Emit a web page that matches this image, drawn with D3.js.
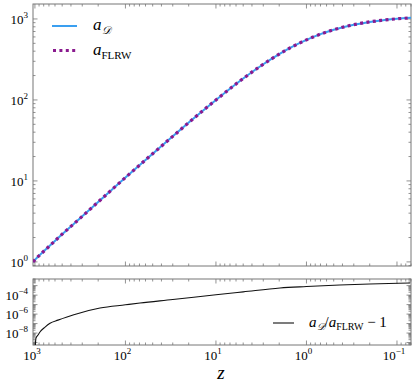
<!DOCTYPE html>
<html lang="en">
<head>
<meta charset="UTF-8">
<title>scale factor</title>
<script src="https://d3js.org/d3.v7.min.js"></script>
<style>
  body { margin: 0; background: #fff; }
</style>
</head>
<body>
<div id="chart"></div>
<script>
// redshift samples
var zTop = [1050, 1000, 700, 500, 300, 200, 100, 50, 30, 20, 10, 5, 3, 2, 1.5, 1, 0.7, 0.5, 0.3, 0.2, 0.15, 0.1, 0.07];
var aD   = [1.0, 1.06, 1.55, 2.2, 3.65, 5.5, 11, 21.7, 35.5, 52.5, 100, 184, 276, 368, 442, 552, 650, 736, 850, 920, 960, 1004, 1032];
var aFLRW = aD.slice(); // overlaps aD everywhere at this scale

var zBot = [1000, 973, 925, 879, 773, 681, 556, 442, 318, 191, 100, 69, 30, 10, 5, 1.96, 1, 0.43, 0.2, 0.072];
var ratio = [1e-10, 3e-9, 6.2e-9, 1.3e-8, 4.3e-8, 1.1e-7, 2.3e-7, 4.9e-7, 1.3e-6, 4.3e-6, 9.5e-6, 1.47e-5, 3.4e-5, 1.1e-4, 2.2e-4, 5.6e-4, 8e-4, 1.17e-3, 1.5e-3, 1.9e-3];

var xMajor = [1000, 100, 10, 1, 0.1];
var xLabels = ["3", "2", "1", "0", "-1"];
var yTopMajor = [1, 10, 100, 1000];
var yTopLabels = ["0", "1", "2", "3"];
var yBotMajor = [1e-9, 1e-8, 1e-7, 1e-6, 1e-5, 1e-4, 1e-3];
var yBotLabeled = [1e-8, 1e-6, 1e-4];
var yBotLabels = ["-8", "-6", "-4"];

var W = 415, H = 388;
var L = 33, R = 411;
var top1 = 4, bot1 = 266, top2 = 279, bot2 = 345;
var axisCol = "#777";
var serif = "'Liberation Serif', 'Times New Roman', 'DejaVu Serif', serif";

var svg = d3.select("#chart").append("svg")
    .attr("width", W).attr("height", H)
    .attr("font-family", serif);

var x = d3.scaleLog().domain([1050, 0.07]).range([L, R]);
var y1 = d3.scaleLog().domain([0.89, 1530]).range([bot1, top1]);
var y2 = d3.scaleLog().domain([5.5e-10, 5e-3]).range([bot2, top2]);

function minors(lo, hi) {
    var out = [];
    for (var e = Math.floor(Math.log10(lo)) - 1; e <= Math.ceil(Math.log10(hi)); e++) {
        for (var k = 2; k <= 9; k++) {
            var v = k * Math.pow(10, e);
            if (v >= lo && v <= hi) out.push(v);
        }
    }
    return out;
}

function sup(sel, base, exp) {
    sel.append("tspan").text(base);
    sel.append("tspan").attr("dy", -6).attr("font-size", "9px").text(exp);
}

// clip paths
var defs = svg.append("defs");
defs.append("clipPath").attr("id", "c1").append("rect")
    .attr("x", L).attr("y", top1).attr("width", R - L).attr("height", bot1 - top1);
defs.append("clipPath").attr("id", "c2").append("rect")
    .attr("x", L).attr("y", top2).attr("width", R - L).attr("height", bot2 - top2);

function panel(yS, yt, yb, yMaj) {
    var g = svg.append("g");
    var xMin = minors(0.07, 1050);
    var yMin = minors(yS.domain()[0], yS.domain()[1]);
    // x ticks bottom and top, y ticks left and right, all inward
    xMajor.forEach(function(v) {
        g.append("line").attr("x1", x(v)).attr("x2", x(v)).attr("y1", yb).attr("y2", yb - 4.5);
        g.append("line").attr("x1", x(v)).attr("x2", x(v)).attr("y1", yt).attr("y2", yt + 4.5);
    });
    xMin.forEach(function(v) {
        g.append("line").attr("x1", x(v)).attr("x2", x(v)).attr("y1", yb).attr("y2", yb - 2.5);
        g.append("line").attr("x1", x(v)).attr("x2", x(v)).attr("y1", yt).attr("y2", yt + 2.5);
    });
    yMaj.forEach(function(v) {
        if (yS(v) < yt || yS(v) > yb) return;
        g.append("line").attr("x1", L).attr("x2", L + 4.5).attr("y1", yS(v)).attr("y2", yS(v));
        g.append("line").attr("x1", R).attr("x2", R - 4.5).attr("y1", yS(v)).attr("y2", yS(v));
    });
    yMin.forEach(function(v) {
        g.append("line").attr("x1", L).attr("x2", L + 2.5).attr("y1", yS(v)).attr("y2", yS(v));
        g.append("line").attr("x1", R).attr("x2", R - 2.5).attr("y1", yS(v)).attr("y2", yS(v));
    });
    g.selectAll("line").attr("stroke", axisCol).attr("stroke-width", 0.8);
    g.append("rect").attr("x", L).attr("y", yt).attr("width", R - L).attr("height", yb - yt)
        .attr("fill", "none").attr("stroke", axisCol).attr("stroke-width", 1);
}

panel(y1, top1, bot1, yTopMajor);
panel(y2, top2, bot2, yBotMajor);

// top panel curves
var line1 = d3.line().curve(d3.curveMonotoneX)
    .x(function(d) { return x(d[0]); }).y(function(d) { return y1(d[1]); });
svg.append("path").datum(d3.zip(zTop, aD))
    .attr("clip-path", "url(#c1)")
    .attr("d", line1).attr("fill", "none")
    .attr("stroke", "#3a9ff0").attr("stroke-width", 2);
svg.append("path").datum(d3.zip(zTop, aFLRW))
    .attr("clip-path", "url(#c1)")
    .attr("d", line1).attr("fill", "none")
    .attr("stroke", "#8a1a8e").attr("stroke-width", 3.2)
    .attr("stroke-dasharray", "3,3.4");

// bottom panel curve
var line2 = d3.line().curve(d3.curveMonotoneX)
    .x(function(d) { return x(d[0]); }).y(function(d) { return y2(d[1]); });
svg.append("path").datum(d3.zip(zBot, ratio))
    .attr("clip-path", "url(#c2)")
    .attr("d", line2).attr("fill", "none")
    .attr("stroke", "#111").attr("stroke-width", 1.1);

// tick labels
xMajor.forEach(function(v, i) {
    var t = svg.append("text").attr("x", x(v) - 3).attr("y", 360)
        .attr("text-anchor", "middle").attr("font-size", "13px");
    sup(t, "10", xLabels[i].replace("-", "\u2212"));
});
yTopMajor.forEach(function(v, i) {
    var t = svg.append("text").attr("x", 28).attr("y", y1(v) + 5)
        .attr("text-anchor", "end").attr("font-size", "13px");
    sup(t, "10", yTopLabels[i]);
});
yBotLabeled.forEach(function(v, i) {
    var t = svg.append("text").attr("x", 28).attr("y", y2(v) + 5)
        .attr("text-anchor", "end").attr("font-size", "13px");
    sup(t, "10", yBotLabels[i].replace("-", "\u2212"));
});

// x label
svg.append("text").attr("x", 221).attr("y", 379).attr("text-anchor", "middle")
    .attr("font-size", "19px").attr("font-style", "italic").text("z");

// legend top
var lg = svg.append("g");
lg.append("line").attr("x1", 52).attr("x2", 77).attr("y1", 26).attr("y2", 26)
    .attr("stroke", "#3a9ff0").attr("stroke-width", 2);
lg.append("line").attr("x1", 53).attr("x2", 77).attr("y1", 50.5).attr("y2", 50.5)
    .attr("stroke", "#8a1a8e").attr("stroke-width", 3.2).attr("stroke-dasharray", "3,3.4");
var t1 = lg.append("text").attr("x", 93).attr("y", 30).attr("font-size", "17px");
t1.append("tspan").attr("font-style", "italic").text("a");
t1.append("tspan").attr("dy", 4).attr("font-size", "11px").attr("font-style", "italic").text("\uD835\uDC9F");
var t2 = lg.append("text").attr("x", 93).attr("y", 55).attr("font-size", "17px");
t2.append("tspan").attr("font-style", "italic").text("a");
t2.append("tspan").attr("dy", 4).attr("font-size", "11px").text("FLRW");

// legend bottom
lg.append("line").attr("x1", 273).attr("x2", 294).attr("y1", 323).attr("y2", 323)
    .attr("stroke", "#111").attr("stroke-width", 1.1);
var t3 = lg.append("text").attr("x", 309).attr("y", 327).attr("font-size", "15px");
t3.append("tspan").attr("font-style", "italic").text("a");
t3.append("tspan").attr("dy", 3).attr("font-size", "10px").attr("font-style", "italic").text("\uD835\uDC9F");
t3.append("tspan").attr("dy", -3).text("/");
t3.append("tspan").attr("font-style", "italic").text("a");
t3.append("tspan").attr("dy", 3).attr("font-size", "10px").text("FLRW");
t3.append("tspan").attr("dy", -3).text(" \u2212 1");
</script>
</body>
</html>
